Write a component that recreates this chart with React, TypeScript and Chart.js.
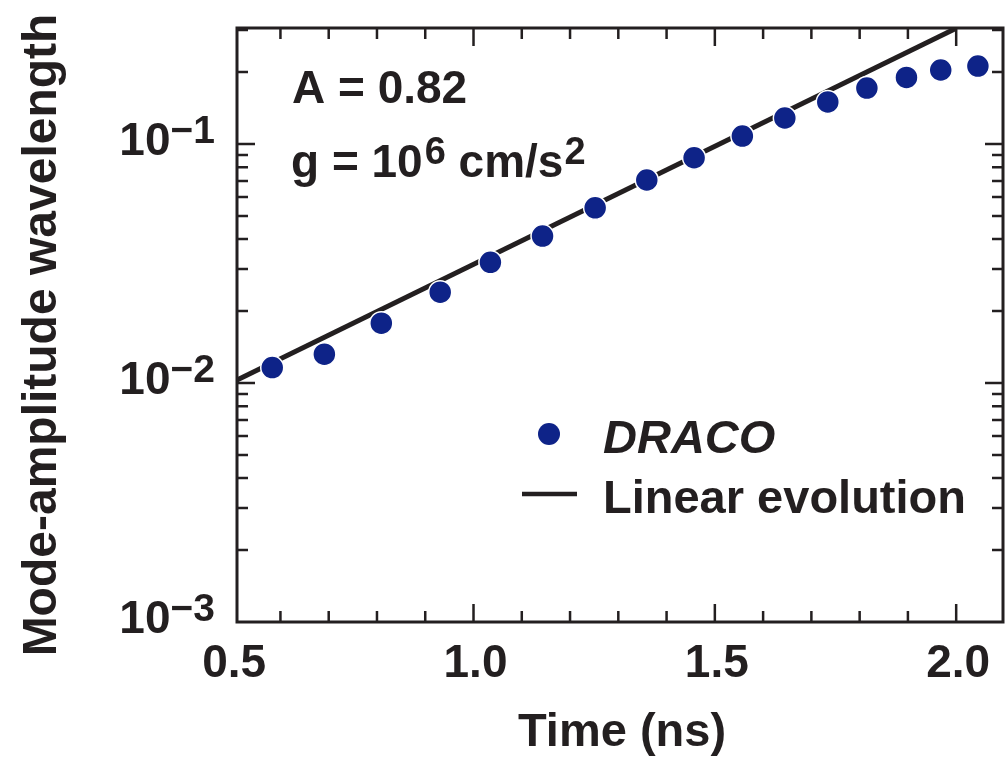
import React, { useEffect, useRef } from 'react';
import { Chart, registerables } from 'chart.js';

Chart.register(...registerables);

// ---- Data ----
const dracoTime = [0.583, 0.691, 0.809, 0.931, 1.035, 1.143, 1.252, 1.359, 1.457, 1.557, 1.645, 1.734, 1.815, 1.897, 1.968, 2.045];
const dracoAmplitude = [0.0116, 0.0132, 0.0178, 0.0240, 0.0320, 0.0412, 0.0541, 0.0707, 0.0876, 0.108, 0.1285, 0.150, 0.1715, 0.190, 0.204, 0.212];
const linearTime = [0.51, 2.0];
const linearAmplitude = [0.0103, 0.305];

const xMajorTicks = [0.5, 1.0, 1.5, 2.0];
const xTickLabels = ['0.5', '1.0', '1.5', '2.0'];
const xMinorTicks = [0.6, 0.7, 0.8, 0.9, 1.1, 1.2, 1.3, 1.4, 1.6, 1.7, 1.8, 1.9];
const yMajorTicks = [0.001, 0.01, 0.1];
const yTickExponents = ['\u22123', '\u22122', '\u22121'];
const yMinorTicks = [0.002, 0.003, 0.004, 0.005, 0.006, 0.007, 0.008, 0.009, 0.02, 0.03, 0.04, 0.05, 0.06, 0.07, 0.08, 0.09, 0.2, 0.3];

const X_MIN = 0.51;
const X_MAX = 2.097;
const Y_MIN = 0.001;
const Y_MAX = 0.3058;

const INK = '#231f20';
const NAVY = '#0e2388';
const FONT = "'Liberation Sans', Arial, Helvetica, sans-serif";

const decorPlugin = {
  id: 'decor',
  afterDraw(chart: any) {
    const ctx: CanvasRenderingContext2D = chart.ctx;
    const { left, right, top, bottom } = chart.chartArea;
    const xs = chart.scales.x;
    const ys = chart.scales.y;
    ctx.save();
    ctx.strokeStyle = INK;
    ctx.fillStyle = INK;
    ctx.lineCap = 'butt';

    // ticks
    ctx.lineWidth = 2.5;
    const vTick = (v: number, len: number) => {
      const px = xs.getPixelForValue(v);
      if (px <= left + 1 || px >= right - 1) return;
      ctx.beginPath();
      ctx.moveTo(px, bottom);
      ctx.lineTo(px, bottom - len);
      ctx.moveTo(px, top);
      ctx.lineTo(px, top + len);
      ctx.stroke();
    };
    const hTick = (v: number, len: number) => {
      const py = ys.getPixelForValue(v);
      if (py <= top + 1 || py >= bottom - 1) return;
      ctx.beginPath();
      ctx.moveTo(left, py);
      ctx.lineTo(left + len, py);
      ctx.moveTo(right, py);
      ctx.lineTo(right - len, py);
      ctx.stroke();
    };
    xMajorTicks.forEach((v) => vTick(v, 18));
    xMinorTicks.forEach((v) => vTick(v, 11));
    yMajorTicks.forEach((v) => hTick(v, 18));
    yMinorTicks.forEach((v) => hTick(v, 11));

    // frame
    ctx.lineWidth = 3;
    ctx.strokeRect(left, top, right - left, bottom - top);

    // x tick labels
    ctx.font = `bold 46px ${FONT}`;
    ctx.textAlign = 'center';
    ctx.textBaseline = 'alphabetic';
    xMajorTicks.forEach((v, i) => {
      const px = xs.getPixelForValue(v);
      ctx.fillText(xTickLabels[i], px + 2, bottom + 55);
    });

    // y tick labels: 10^exp
    yMajorTicks.forEach((v, i) => {
      const py = ys.getPixelForValue(v);
      const supRight = left - 22;
      ctx.font = `bold 39px ${FONT}`;
      const supW = ctx.measureText(yTickExponents[i]).width;
      ctx.textAlign = 'left';
      ctx.fillText(yTickExponents[i], supRight - supW, py - 1);
      ctx.font = `bold 46px ${FONT}`;
      ctx.textAlign = 'right';
      ctx.fillText('10', supRight - supW, py + 11);
    });

    // axis titles
    ctx.font = `bold 47px ${FONT}`;
    ctx.textAlign = 'center';
    ctx.fillText('Time (ns)', 622, 746);
    ctx.save();
    ctx.translate(56, 335);
    ctx.rotate(-Math.PI / 2);
    ctx.font = `bold 48px ${FONT}`;
    ctx.fillText('Mode-amplitude wavelength', 0, 0);
    ctx.restore();

    // annotation
    ctx.textAlign = 'left';
    ctx.font = `bold 46px ${FONT}`;
    ctx.fillText('A = 0.82', 292, 103);
    let x = 291;
    const base = 177;
    const part1 = 'g = 10';
    ctx.fillText(part1, x, base);
    x += ctx.measureText(part1).width + 2;
    ctx.font = `bold 38px ${FONT}`;
    ctx.fillText('6', x, base - 13);
    x += ctx.measureText('6').width;
    ctx.font = `bold 46px ${FONT}`;
    const part2 = ' cm/s';
    ctx.fillText(part2, x, base);
    x += ctx.measureText(part2).width + 1;
    ctx.font = `bold 38px ${FONT}`;
    ctx.fillText('2', x, base - 13);

    // legend
    ctx.fillStyle = NAVY;
    ctx.beginPath();
    ctx.arc(549, 434, 11, 0, Math.PI * 2);
    ctx.fill();
    ctx.fillStyle = INK;
    ctx.font = `italic bold 47px ${FONT}`;
    ctx.fillText('DRACO', 603, 453);
    ctx.font = `bold 47px ${FONT}`;
    ctx.fillText('Linear evolution', 603, 513);
    ctx.lineWidth = 4.5;
    ctx.beginPath();
    ctx.moveTo(522, 494);
    ctx.lineTo(577, 494);
    ctx.stroke();

    ctx.restore();
  },
};

export default function App() {
  const canvasRef = useRef<HTMLCanvasElement | null>(null);

  useEffect(() => {
    if (!canvasRef.current) return;
    const chart = new Chart(canvasRef.current, {
      type: 'scatter',
      data: {
        datasets: [
          {
            label: 'DRACO',
            data: dracoTime.map((t, i) => ({ x: t, y: dracoAmplitude[i] })),
            backgroundColor: NAVY,
            borderColor: '#ffffff',
            borderWidth: 1.5,
            pointRadius: 11.5,
            pointHoverRadius: 11.5,
            showLine: false,
          },
          {
            label: 'Linear evolution',
            data: linearTime.map((t, i) => ({ x: t, y: linearAmplitude[i] })),
            borderColor: INK,
            backgroundColor: INK,
            borderWidth: 5,
            pointRadius: 0,
            showLine: true,
          },
        ],
      },
      options: {
        animation: false,
        responsive: false,
        devicePixelRatio: 1,
        events: [],
        layout: { autoPadding: false, padding: { left: 237, top: 28, right: 3, bottom: 135 } },
        plugins: { legend: { display: false }, tooltip: { enabled: false } },
        scales: {
          x: { type: 'linear', min: X_MIN, max: X_MAX, display: false },
          y: { type: 'logarithmic', min: Y_MIN, max: Y_MAX, display: false },
        },
      },
      plugins: [decorPlugin],
    });
    return () => chart.destroy();
  }, []);

  return (
    <div style={{ position: 'fixed', left: 0, top: 0, width: 1006, height: 757, background: '#ffffff' }}>
      <canvas ref={canvasRef} width={1006} height={757} style={{ width: 1006, height: 757 }} />
    </div>
  );
}
